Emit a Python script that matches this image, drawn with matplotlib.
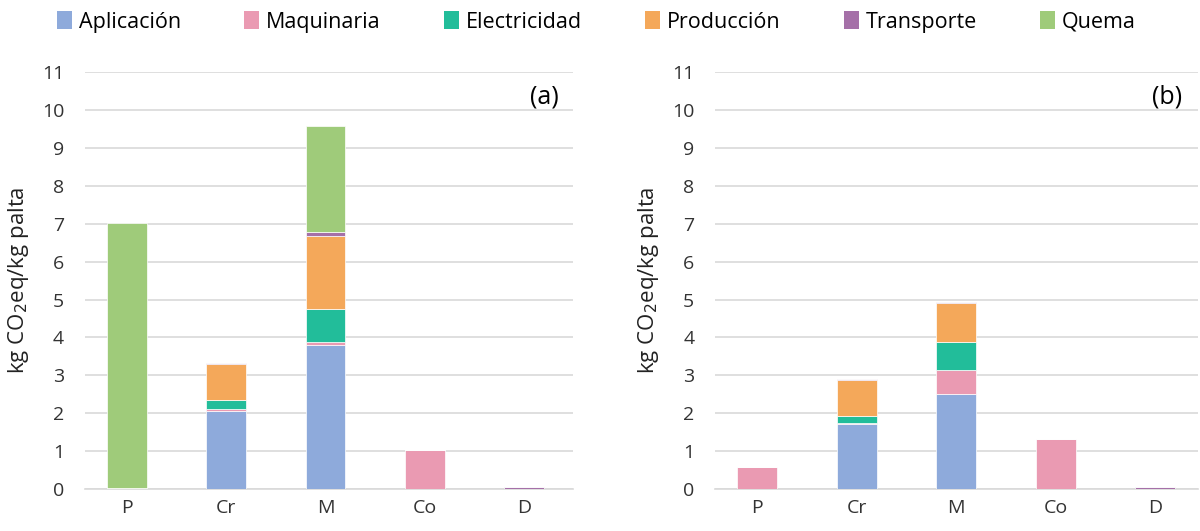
import numpy as np
import matplotlib.pyplot as plt
from matplotlib.patches import Patch

plt.rcParams['font.family'] = ['Open Sans', 'DejaVu Sans']

categories = ['P', 'Cr', 'M', 'Co', 'D']
series = ['Aplicación', 'Maquinaria', 'Electricidad', 'Producción', 'Transporte', 'Quema']
colors = ['#8EAADB', '#EA9AB2', '#22BD9A', '#F4A85A', '#A570A8', '#9FCB7A']

# panel (a)
aplicacion_a = [0.0, 2.06, 3.81, 0.0, 0.0]
maquinaria_a = [0.03, 0.05, 0.06, 1.03, 0.0]
electricidad_a = [0.0, 0.24, 0.88, 0.0, 0.0]
produccion_a = [0.0, 0.95, 1.93, 0.0, 0.0]
transporte_a = [0.0, 0.03, 0.10, 0.0, 0.05]
quema_a = [6.99, 0.0, 2.80, 0.0, 0.0]

# panel (b)
aplicacion_b = [0.0, 1.71, 2.52, 0.0, 0.0]
maquinaria_b = [0.57, 0.03, 0.62, 1.31, 0.0]
electricidad_b = [0.0, 0.18, 0.74, 0.0, 0.0]
produccion_b = [0.0, 0.97, 1.04, 0.0, 0.0]
transporte_b = [0.0, 0.02, 0.02, 0.0, 0.05]
quema_b = [0.0, 0.0, 0.0, 0.0, 0.0]

panels = [
    ('(a)', [aplicacion_a, maquinaria_a, electricidad_a, produccion_a, transporte_a, quema_a]),
    ('(b)', [aplicacion_b, maquinaria_b, electricidad_b, produccion_b, transporte_b, quema_b]),
]

fig = plt.figure(figsize=(12, 5.31), dpi=100)
axes = [fig.add_axes([0.0708, 0.079, 0.4067, 0.785]),
        fig.add_axes([0.596, 0.079, 0.4025, 0.785])]
xlims = [(-0.423, 4.494), (-0.42, 4.43)]
tag_x = [0.97, 0.967]

x = np.arange(len(categories))
for i, (ax, (tag, data)) in enumerate(zip(axes, panels)):
    bottom = np.zeros(len(categories))
    for vals, col in zip(data, colors):
        vals = np.array(vals)
        ax.bar(x, vals, 0.4, bottom=bottom, color=col, edgecolor='white', linewidth=0.5, zorder=3)
        bottom += vals
    ax.set_xlim(*xlims[i])
    ax.set_ylim(0, 11)
    ax.set_yticks(range(0, 12))
    ax.set_xticks(x)
    ax.set_xticklabels(categories)
    ax.grid(axis='y', color='#D9D9D9', linewidth=1.2, zorder=0)
    for s in ['top', 'right', 'left']:
        ax.spines[s].set_visible(False)
    ax.spines['bottom'].set_color('#D9D9D9')
    ax.spines['bottom'].set_linewidth(1.2)
    ax.tick_params(axis='y', length=0, labelsize=14, colors='#333333', pad=15)
    ax.tick_params(axis='x', length=0, labelsize=14, colors='#333333', pad=7)
    ax.set_ylabel('kg CO$_2$eq/kg palta', fontsize=16, color='#222222', labelpad=8)
    ax.text(tag_x[i], 0.94, tag, transform=ax.transAxes, ha='right', va='center', fontsize=18)

handles = [Patch(facecolor=c, label=s) for s, c in zip(series, colors)]
fig.legend(handles=handles, loc='upper center', bbox_to_anchor=(0.497, 1.015), ncol=6,
           frameon=False, fontsize=15.5, handlelength=0.7, handleheight=0.9,
           handletextpad=0.3, columnspacing=2.95)

fig.savefig('out.png', dpi=100)
